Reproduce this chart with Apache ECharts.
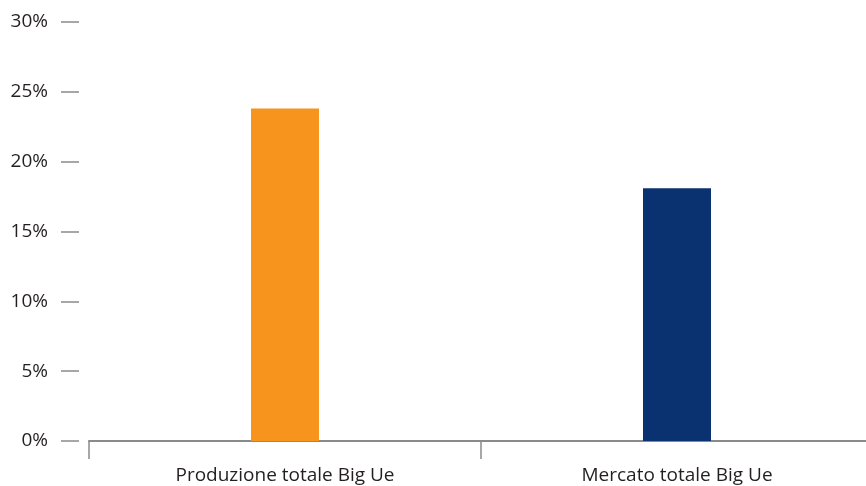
<!DOCTYPE html>
<html>
<head>
<meta charset="utf-8">
<script src="https://cdn.jsdelivr.net/npm/echarts@6/dist/echarts.min.js"></script>
<style>
  html, body { margin: 0; padding: 0; background: #fff; overflow: hidden; }
  /* the category axis runs past the right edge of the page */
  #chart { width: 873px; height: 486px; }
</style>
</head>
<body>
<div id="chart"></div>
<script>
// Categories and values (percent)
const categories = ['Produzione totale Big Ue', 'Mercato totale Big Ue'];
const values = [23.8, 18.1];
const barColors = ['#F7941E', '#0B3270'];
const yTicks = [0, 5, 10, 15, 20, 25, 30];

const chart = echarts.init(document.getElementById('chart'), null, { renderer: 'canvas' });

const fontFamily = '"Open Sans", "Noto Sans", sans-serif';

chart.setOption({
  animation: false,
  grid: { left: 89, top: 22, right: 0, bottom: 45, containLabel: false },
  xAxis: {
    type: 'category',
    data: categories,
    axisLine: { show: true, lineStyle: { color: '#8a8a8a', width: 2 } },
    axisTick: { show: true, length: 18, lineStyle: { color: '#8a8a8a', width: 1.5 } },
    axisLabel: { color: '#231f20', fontSize: 19, fontFamily: fontFamily, margin: 25 },
    splitLine: { show: false }
  },
  yAxis: {
    type: 'value',
    min: yTicks[0],
    max: yTicks[yTicks.length - 1],
    interval: 5,
    offset: 10,
    axisLine: { show: false },
    axisTick: { show: true, length: 18, lineStyle: { color: '#8a8a8a', width: 1.5 } },
    axisLabel: {
      color: '#231f20', fontSize: 19, fontFamily: fontFamily, margin: 31,
      formatter: v => v + '%'
    },
    splitLine: { show: false }
  },
  series: [{
    type: 'bar',
    barWidth: 68,
    data: values.map((v, i) => ({ value: v, itemStyle: { color: barColors[i] } }))
  }]
});
</script>
</body>
</html>
